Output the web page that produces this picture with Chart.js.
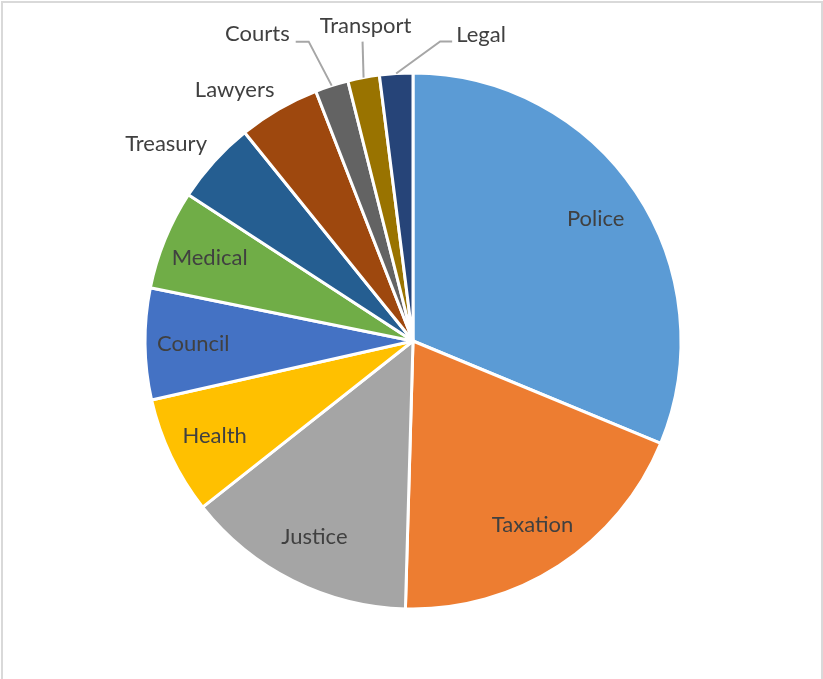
<!DOCTYPE html>
<html lang="en">
<head>
    <meta charset="UTF-8">
    <title>Pie Chart</title>
    <script src="https://cdn.jsdelivr.net/npm/chart.js"></script>
    <style>
        body {
            margin: 0;
            background-color: #fff;
            font-family: Lato, "Open Sans", sans-serif;
        }

        .wrap {
            position: relative;
            width: 823px;
            height: 679px;
            overflow: hidden;
        }

        .frame {
            position: absolute;
            left: 1px;
            top: 1px;
            width: 818px;
            height: 720px;
            border: 2px solid #d9d9d9;
            pointer-events: none;
        }

        canvas {
            position: absolute;
            left: 0;
            top: 0;
        }
    </style>
</head>
<body>

    <div class="wrap">
        <canvas id="pieChart" width="823" height="679"></canvas>
        <div class="frame"></div>
    </div>

    <script>
        // Categories and their shares
        const labels = ['Police', 'Taxation', 'Justice', 'Health', 'Council', 'Medical',
                        'Treasury', 'Lawyers', 'Courts', 'Transport', 'Legal'];
        const values = [31.2, 19.2, 13.9, 7.1, 6.7, 6.0, 5.0, 4.9, 2.0, 1.9, 2.0];
        const colors = ['#5b9bd5', '#ed7d31', '#a5a5a5', '#ffc000', '#4472c4', '#70ad47',
                        '#255e91', '#9e480e', '#636363', '#997300', '#264478'];

        // Labels that sit outside the pie: offsets from the slice's outer edge
        const callouts = {
            Treasury:  { text: [-48, -18], align: 'center' },
            Lawyers:   { text: [-44, -19], align: 'center' },
            Courts:    { line: [[-23, -44], [-36, -44]], text: [-42, -52], align: 'right' },
            Transport: { line: [[-1, -36]], text: [2, -52], align: 'center' },
            Legal:     { line: [[44, -32], [56, -32]], text: [60, -39], align: 'left' }
        };

        // Draws the category names, inside the slice or with a leader line
        const sliceLabels = {
            id: 'sliceLabels',
            afterDatasetsDraw(chart) {
                const ctx = chart.ctx;
                const meta = chart.getDatasetMeta(0);
                ctx.save();
                ctx.font = '22px Lato, "Open Sans", sans-serif';
                ctx.fillStyle = '#404040';
                ctx.textBaseline = 'middle';
                meta.data.forEach((arc, i) => {
                    const p = arc.getProps(['x', 'y', 'startAngle', 'endAngle', 'outerRadius'], true);
                    const mid = (p.startAngle + p.endAngle) / 2;
                    const name = labels[i];
                    const c = callouts[name];
                    if (!c) {
                        const r = p.outerRadius * 0.82;
                        ctx.textAlign = 'center';
                        ctx.fillText(name, p.x + Math.cos(mid) * r, p.y + Math.sin(mid) * r);
                        return;
                    }
                    const ex = p.x + Math.cos(mid) * p.outerRadius;
                    const ey = p.y + Math.sin(mid) * p.outerRadius;
                    if (c.line) {
                        ctx.beginPath();
                        ctx.strokeStyle = '#a6a6a6';
                        ctx.lineWidth = 2;
                        ctx.moveTo(ex, ey);
                        c.line.forEach(pt => ctx.lineTo(ex + pt[0], ey + pt[1]));
                        ctx.stroke();
                    }
                    ctx.textAlign = c.align;
                    ctx.fillText(name, ex + c.text[0], ey + c.text[1]);
                });
                ctx.restore();
            }
        };

        const config = {
            type: 'pie',
            data: {
                labels: labels,
                datasets: [{
                    data: values,
                    backgroundColor: colors,
                    borderColor: '#ffffff',
                    borderWidth: 3,
                    radius: 268
                }]
            },
            options: {
                responsive: false,
                animation: false,
                layout: {
                    padding: { left: 3, right: 0, top: 3, bottom: 0 }
                },
                plugins: {
                    legend: { display: false },
                    tooltip: { enabled: false }
                }
            },
            plugins: [sliceLabels]
        };

        const ctx = document.getElementById('pieChart').getContext('2d');
        const pieChart = new Chart(ctx, config);
    </script>

</body>
</html>
